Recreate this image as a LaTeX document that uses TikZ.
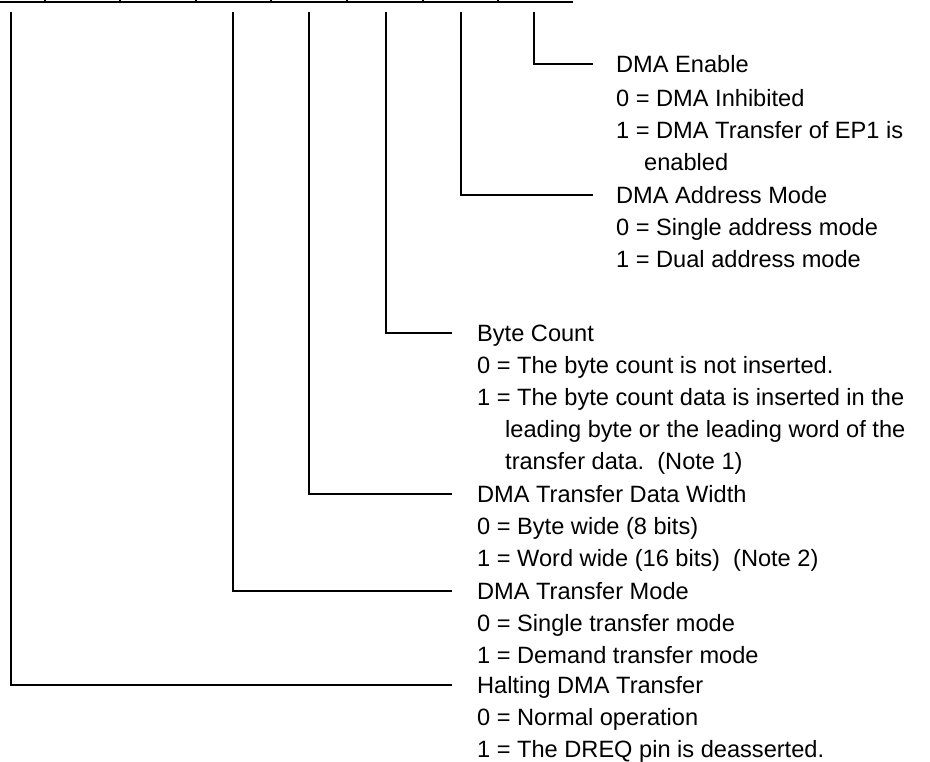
\documentclass[tikz,border=0pt]{standalone}
\usepackage{fontspec}
\setmainfont{Liberation Sans}
\usetikzlibrary{calc}

\tikzset{
	rule/.style={line width=2pt},
	conn/.style={line width=1.7pt},
	txt/.style={anchor=west, inner sep=0pt, text height=16.9pt, text depth=0pt, font=\fontsize{23.6}{31.7}\selectfont}
}

\begin{document}
\begin{tikzpicture}[x=1pt, y=-1pt]
			%%%%% START %%%%%
			\useasboundingbox (0, 0) rectangle (930, 762);
			
			% bottom edge of the register row
			\draw[rule] (0, 2.5) -- (573, 2.5);
			\draw[rule] (45, 0) -- (45, 2.5);
			\draw[rule] (120, 0) -- (120, 2.5);
			\draw[rule] (196, 0) -- (196, 2.5);
			\draw[rule] (271, 0) -- (271, 2.5);
			\draw[rule] (347, 0) -- (347, 2.5);
			\draw[rule] (423, 0) -- (423, 2.5);
			\draw[rule] (498, 0) -- (498, 2.5);
			
			\coordinate (bit7) at (11, 12);
			\coordinate (bit4) at (233, 12);
			\coordinate (bit3) at (309, 12);
			\coordinate (bit2) at (386, 12);
			\coordinate (bit1) at (461, 12);
			\coordinate (bit0) at (534, 12);
			
			% bit 0 and bit 1
			\node[txt] (en) at (616, 64) {DMA Enable};
			\node[txt] (en0) at (616, 98) {0 = DMA Inhibited};
			\node[txt] (en1) at (616, 130) {1 = DMA Transfer of EP1 is};
			\node[txt] (en1b) at (644, 162) {enabled};
			
			\node[txt] (am) at (616, 195) {DMA Address Mode};
			\node[txt] (am0) at (616, 227) {0 = Single address mode};
			\node[txt] (am1) at (616, 259) {1 = Dual address mode};
			
			% bit 2, 3, 4 and 7
			\node[txt] (bc) at (477, 333) {Byte Count};
			\node[txt] (bc0) at (477, 365) {0 = The byte count is not inserted.};
			\node[txt] (bc1) at (477, 397) {1 = The byte count data is inserted in the};
			\node[txt] (bc1b) at (505, 429) {leading byte or the leading word of the};
			\node[txt] (bc1c) at (505, 461) {transfer data.\ \ (Note 1)};
			
			\node[txt] (dw) at (477, 494) {DMA Transfer Data Width};
			\node[txt] (dw0) at (477, 526) {0 = Byte wide (8 bits)};
			\node[txt] (dw1) at (477, 558) {1 = Word wide (16 bits)\ \ (Note 2)};
			
			\node[txt] (tm) at (477, 591) {DMA Transfer Mode};
			\node[txt] (tm0) at (477, 623) {0 = Single transfer mode};
			\node[txt] (tm1) at (477, 655) {1 = Demand transfer mode};
			
			\node[txt] (ht) at (477, 685) {Halting DMA Transfer};
			\node[txt] (ht0) at (477, 717) {0 = Normal operation};
			\node[txt] (ht1) at (477, 749) {1 = The DREQ pin is deasserted.};
			
			\draw[conn] (bit0) |- ([xshift=-23pt]en.west);
			\draw[conn] (bit1) |- ([xshift=-23pt]am.west);
			\draw[conn] (bit2) |- ([xshift=-25pt]bc.west);
			\draw[conn] (bit3) |- ([xshift=-25pt]dw.west);
			\draw[conn] (bit4) |- ([xshift=-25pt]tm.west);
			\draw[conn] (bit7) |- ([xshift=-25pt]ht.west);
			
			%%%%% END %%%%%
\end{tikzpicture}
\end{document}
